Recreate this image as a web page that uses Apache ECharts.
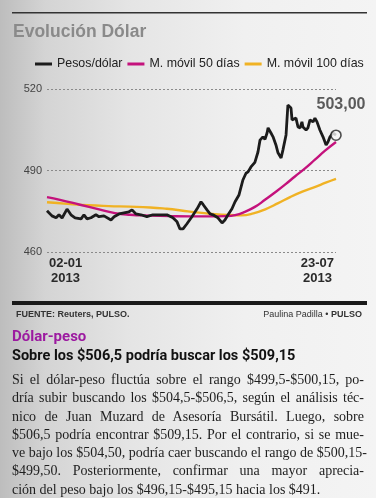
<!DOCTYPE html>
<html><head><meta charset="utf-8">
<script src="https://cdn.jsdelivr.net/npm/echarts@6/dist/echarts.min.js"></script>
<style>
html,body{margin:0;padding:0;width:376px;height:498px;overflow:hidden;}
body{background:linear-gradient(to right,#bdbdbd 0%,#d4d4d4 12%,#e5e5e5 35%,#f0f0f0 65%,#f4f4f4 100%);}
#chart{position:absolute;left:0;top:0;width:376px;height:498px;z-index:1;}
#para{position:absolute;left:12px;top:371px;width:352px;font-family:"Liberation Serif","Times New Roman",serif;font-size:14px;line-height:18.3px;color:#1e1e1e;z-index:2;}
#para div{text-align:justify;text-align-last:justify;white-space:nowrap;}
#para div.last{text-align-last:left;}
</style>
</head><body>
<div id="chart"></div>
<div id="para"></div>
<script>
// ---- data ----
const seriesNames = ['Pesos/dólar', 'M. móvil 50 días', 'M. móvil 100 días'];
const pesoDays = [0,2.4,4.4,5.8,7.3,9.7,11.6,13.6,14.5,16.5,17.9,19.4,21.3,23.7,25.2,27.6,31,32.5,34.9,37.3,39.7,41.2,43.1,45.5,48.4,51.3,54.7,58.1,61,63,64.4,65.9,67.8,70.2,72.7,74.6,75.6,77.5,79,80.4,82.8,84.8,86.2,87.7,89.6,91.1,93,94.9,96.4,97.4,98.8,100.7,102.2,103.2,104.6,105.6,106.6,107.1,108.5,109.5,110.9,111.9,113.4,114.3,115.8,116.7,118.2,118.7,119.6,120.6,121.6,122.6,123.5,124,125.5,126.4,127.4,128.9,129.8,130.8,132.2,133.7,135.2,136.1,137.1,138.5,140];
const pesos = [475.2,473.3,472.6,473.7,472.5,475.8,473.7,472.6,473.3,472.2,473.7,472.2,472.6,473.7,473,473.3,471.8,473,474,474.4,474.8,475.5,474,473.7,473,473.7,473.7,473.7,472.6,471.1,468.5,468.5,470.4,473,475.9,478.5,477.5,475.5,474,473.7,472.6,470.7,471.8,473.7,475.9,478.5,481,486.5,489,489.5,491.3,493,496.8,501.2,502.4,501.5,503.8,505.7,503.8,502.4,499.4,496.5,494.6,497.6,503.1,514.1,513,508.6,507.9,509.3,506,505.7,507.9,506,504.9,505.7,508.6,507.9,509.3,507.9,504.9,502.4,499.4,500.5,502.4,503.8,503];
const ma50Days = [0,6.3,16,25.7,32.9,40.2,49.9,59.6,69.3,79,86.2,91.1,95.9,100.7,105.6,110.4,115.3,120.1,125,129.8,134.7,140];
const ma50 = [480.2,479.2,477.4,475.6,474.3,473.7,473.4,473.2,473.1,473.1,473.2,473.6,474.8,476.6,479.2,481.9,484.8,487.8,490.8,494,497.3,500.5];
const ma100Days = [0,10,20,30,40,50,58,65,72,80,88,94,100,106,112,118,124,130,135,140];
const ma100 = [478.3,477.7,477.2,476.9,476.7,476.4,475.9,475.3,474.6,474,473.6,473.5,474.2,475.8,478,480.3,482.3,484,485.5,486.9];
const yTicks = [460, 490, 520];
const xTickDays = [9, 131];
const xTickLabels = ['02-01\n2013', '23-07\n2013'];
const lastLabel = '503,00';
const paraLines = [
 'Si el dólar-peso fluctúa sobre el rango $499,5-$500,15, po-',
 'dría subir buscando los $504,5-$506,5, según el análisis téc-',
 'nico de Juan Muzard de Asesoría Bursátil. Luego, sobre',
 '$506,5 podría encontrar $509,15. Por el contrario, si se mue-',
 've bajo los $504,50, podría caer buscando el rango de $500,15-',
 '$499,50. Posteriormente, confirmar una mayor aprecia-',
 'ción del peso bajo los $496,15-$495,15 hacia los $491.'
];

// ---- paragraph ----
const para = document.getElementById('para');
paraLines.forEach((t, i) => {
  const d = document.createElement('div');
  d.textContent = t;
  if (i === paraLines.length - 1) d.className = 'last';
  para.appendChild(d);
});

const zip = (a, b) => a.map((x, i) => [x, b[i]]);
const font = '"Liberation Sans", Arial, sans-serif';
const chart = echarts.init(document.getElementById('chart'), null, {renderer: 'canvas'});
chart.setOption({
  backgroundColor: 'transparent',
  animation: false,
  textStyle: {fontFamily: font},
  grid: {left: 47, right: 40, top: 89, bottom: 246},
  legend: {
    data: seriesNames,
    left: 35, top: 58, width: 341, padding: 0,
    icon: 'rect', itemWidth: 17, itemHeight: 3, itemGap: 5,
    textStyle: {fontSize: 12.4, color: '#222', fontFamily: font}
  },
  xAxis: {
    type: 'value', min: 0, max: 140,
    axisLine: {show: false}, axisTick: {show: false}, splitLine: {show: false},
    axisLabel: {
      customValues: xTickDays,
      formatter: v => xTickLabels[xTickDays.indexOf(v)] || '',
      fontSize: 13, fontWeight: 'bold', color: '#2a2a2a', lineHeight: 15, margin: 4
    }
  },
  yAxis: {
    type: 'value', min: yTicks[0], max: yTicks[yTicks.length - 1], interval: 30,
    axisLine: {show: false}, axisTick: {show: false},
    axisLabel: {fontSize: 11, color: '#444', margin: 5},
    splitLine: {show: true, lineStyle: {color: '#8a8a8a', type: [2, 2], width: 1}}
  },
  series: [
    {name: seriesNames[0], type: 'line', data: zip(pesoDays, pesos), showSymbol: false, z: 5,
     lineStyle: {color: '#1c1c1c', width: 2.8}, itemStyle: {color: '#1c1c1c'}},
    {name: seriesNames[1], type: 'line', data: zip(ma50Days, ma50), showSymbol: false, smooth: true, z: 4,
     lineStyle: {color: '#c4127c', width: 2.4}, itemStyle: {color: '#c4127c'}},
    {name: seriesNames[2], type: 'line', data: zip(ma100Days, ma100), showSymbol: false, smooth: true, z: 3,
     lineStyle: {color: '#f0b224', width: 2.4}, itemStyle: {color: '#f0b224'}},
    {name: 'end', type: 'scatter', z: 6,
     data: [[pesoDays[pesoDays.length - 1], pesos[pesos.length - 1]]],
     symbol: 'circle', symbolSize: 10,
     itemStyle: {color: '#f6f6f6', borderColor: '#222', borderWidth: 1.6},
     label: {show: true, formatter: lastLabel, position: 'inside', offset: [5, -31],
       fontSize: 16, fontWeight: 'bold', color: '#333', fontFamily: font}}
  ],
  graphic: [
    {type: 'rect', shape: {x: 12, y: 12, width: 355, height: 1.5}, style: {fill: '#333'}},
    {type: 'text', left: 13, top: 23, style: {text: 'Evolución Dólar', font: 'bold 17.5px ' + font, fill: '#8a8a8a'}},
    {type: 'rect', shape: {x: 12, y: 301, width: 355, height: 4}, style: {fill: '#1a1a1a'}},
    {type: 'text', left: 16, top: 310, style: {text: 'FUENTE: Reuters, PULSO.', font: 'bold 9px ' + font, fill: '#333'}},
    {type: 'text', right: 14, top: 310, style: {text: '{n|Paulina Padilla • }{b|PULSO}',
      rich: {n: {font: '9px ' + font, fill: '#333'}, b: {font: 'bold 9px ' + font, fill: '#333'}}}},
    {type: 'text', left: 12, top: 330, style: {text: 'Dólar-peso', font: 'bold 15px Roboto, ' + font, fill: '#9c1aa0'}},
    {type: 'text', left: 12, top: 349, style: {text: 'Sobre los $506,5 podría buscar los $509,15', font: 'bold 14.5px Roboto, ' + font, fill: '#111'}}
  ]
});
</script>
</body></html>
